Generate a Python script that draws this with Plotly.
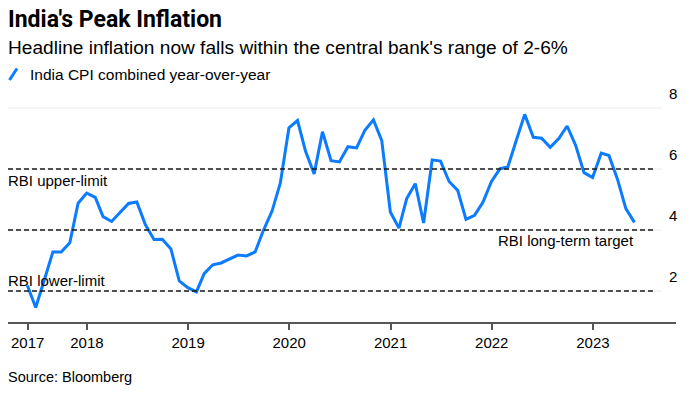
import pandas as pd
import plotly.graph_objects as go

# ---- data -------------------------------------------------------------
# India CPI combined, year-over-year %, monthly May 2017 .. May 2023 (month-end)
months = pd.date_range("2017-05-31", "2023-05-31", freq="ME")
cpi_yoy = [
    2.18, 1.46, 2.36, 3.28, 3.28, 3.58, 4.88, 5.21,                      # 2017 May-Dec
    5.07, 4.44, 4.28, 4.58, 4.87, 4.92, 4.17, 3.69, 3.70, 3.38, 2.33, 2.11,  # 2018
    1.97, 2.57, 2.86, 2.92, 3.05, 3.18, 3.15, 3.28, 3.99, 4.62, 5.54, 7.35,  # 2019
    7.59, 6.58, 5.84, 7.22, 6.27, 6.23, 6.73, 6.69, 7.27, 7.61, 6.93, 4.59,  # 2020
    4.06, 5.03, 5.52, 4.23, 6.30, 6.26, 5.59, 5.30, 4.35, 4.48, 4.91, 5.59,  # 2021
    6.01, 6.07, 6.95, 7.79, 7.04, 7.01, 6.71, 7.00, 7.41, 6.77, 5.88, 5.72,  # 2022
    6.52, 6.44, 5.66, 4.70, 4.25,                                          # 2023 Jan-May
]

x_tick_dates = ["2017-06-01", "2018-01-01", "2019-01-01", "2020-01-01",
                "2021-01-01", "2022-01-01", "2023-01-01"]
x_tick_labels = ["2017", "2018", "2019", "2020", "2021", "2022", "2023"]

y_grid_values = [2, 4, 6, 8]
y_grid_labels = ["2", "4", "6", "8"]

rbi_levels = [6, 4, 2]
rbi_labels = ["RBI upper-limit", "RBI long-term target", "RBI lower-limit"]

title_text = "India's Peak Inflation"
subtitle_text = "Headline inflation now falls within the central bank's range of 2-6%"
legend_text = "India CPI combined year-over-year"
source_text = "Source: Bloomberg"

# ---- layout geometry ---------------------------------------------------
W, H = 698, 396
ML, MR, MT, MB = 8, 22, 95, 74
PW, PH = W - ML - MR, H - MT - MB


def px_x(px):
    return (px - ML) / PW


def px_y(py):
    return (H - MB - py) / PH


FONT = "Liberation Sans, Arial, Helvetica, sans-serif"
TITLE_FONT = "Liberation Sans Narrow, Roboto, Liberation Sans, Arial, sans-serif"
BLUE = "#0b7bff"

fig = go.Figure()
fig.add_trace(go.Scatter(
    x=months, y=cpi_yoy, mode="lines",
    line=dict(color=BLUE, width=3), showlegend=False,
    hoverinfo="skip",
))

shapes = []
annotations = []

# light grid lines + right-side labels
for v, lab in zip(y_grid_values, y_grid_labels):
    shapes.append(dict(type="line", xref="paper", yref="y", x0=0, x1=px_x(662),
                       y0=v, y1=v, line=dict(color="#e8e8e8", width=1), layer="below"))
    annotations.append(dict(xref="paper", yref="y", x=1.0, y=v, text=lab,
                            xanchor="right", yanchor="middle", yshift=14.5, xshift=3,
                            showarrow=False, font=dict(family=FONT, size=15, color="#000")))

# RBI dashed reference lines
for v in rbi_levels:
    shapes.append(dict(type="line", xref="paper", yref="y", x0=0, x1=px_x(653),
                       y0=v, y1=v, line=dict(color="#1a1a1a", width=1.5, dash="5px,3px")))

# RBI labels
annotations.append(dict(xref="paper", yref="y", x=0, y=rbi_levels[0], text=rbi_labels[0],
                        xanchor="left", yanchor="middle", yshift=-11, xshift=-2,
                        showarrow=False, font=dict(family=FONT, size=15, color="#000")))
annotations.append(dict(xref="paper", yref="y", x=px_x(634), y=rbi_levels[1], text=rbi_labels[1],
                        xanchor="right", yanchor="middle", yshift=-10.5, xshift=2,
                        showarrow=False, font=dict(family=FONT, size=15, color="#000")))
annotations.append(dict(xref="paper", yref="y", x=0, y=rbi_levels[2], text=rbi_labels[2],
                        xanchor="left", yanchor="middle", yshift=10.5, xshift=-2,
                        showarrow=False, font=dict(family=FONT, size=15, color="#000")))

# title, subtitle, legend, source
annotations.append(dict(xref="paper", yref="paper", x=0, y=px_y(19.5), text="<b>" + title_text + "</b>",
                        xanchor="left", yanchor="middle", xshift=-2, showarrow=False,
                        font=dict(family=TITLE_FONT, size=23, color="#000")))
annotations.append(dict(xref="paper", yref="paper", x=0, y=px_y(48), text=subtitle_text,
                        xanchor="left", yanchor="middle", xshift=-2, showarrow=False,
                        font=dict(family=FONT, size=19.1, color="#000")))
annotations.append(dict(xref="paper", yref="paper", x=px_x(30), y=px_y(74.5), text=legend_text,
                        xanchor="left", yanchor="middle", xshift=-2, showarrow=False,
                        font=dict(family=FONT, size=15.5, color="#000")))
shapes.append(dict(type="line", xref="paper", yref="paper",
                   x0=px_x(9.5), y0=px_y(80), x1=px_x(17), y1=px_y(68.5),
                   line=dict(color=BLUE, width=3)))
annotations.append(dict(xref="paper", yref="paper", x=0, y=px_y(377), text=source_text,
                        xanchor="left", yanchor="middle", xshift=-2, showarrow=False,
                        font=dict(family=FONT, size=14.5, color="#000")))

fig.update_layout(
    width=W, height=H, autosize=False,
    margin=dict(l=ML, r=MR, t=MT, b=MB, pad=0),
    paper_bgcolor="white", plot_bgcolor="white",
    shapes=shapes, annotations=annotations,
    showlegend=False,
    xaxis=dict(
        type="date", range=["2017-03-22", "2023-10-28"],
        tickvals=x_tick_dates, ticktext=x_tick_labels,
        showgrid=False, zeroline=False,
        showline=True, linecolor="#555", linewidth=1.5,
        ticks="outside", ticklen=6, tickwidth=1.5, tickcolor="#555",
        tickfont=dict(family=FONT, size=15, color="#000"),
        fixedrange=True,
    ),
    yaxis=dict(
        range=[0.984, 8.426], showgrid=False, zeroline=False,
        showticklabels=False, showline=False, fixedrange=True,
    ),
)

fig.write_html("out.html", config={"displayModeBar": False},
               post_script="document.body.style.margin='0';document.body.style.overflow='hidden';")
